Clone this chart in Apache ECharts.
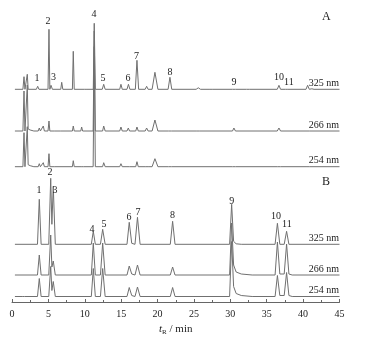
<!DOCTYPE html>
<html>
<head>
<meta charset="utf-8">
<script src="https://cdn.jsdelivr.net/npm/echarts@6/dist/echarts.min.js"></script>
<style>
html,body{margin:0;padding:0;background:#fff;}
#c{width:365px;height:343px;}
</style>
</head>
<body>
<div id="c"></div>
<script>
// Retention time axis (min)
const xTicks = [0, 5, 10, 15, 20, 25, 30, 35, 40, 45];
const traceNames = ['A 325 nm', 'A 266 nm', 'A 254 nm', 'B 325 nm', 'B 266 nm', 'B 254 nm'];
const wavelengthLabels = ['325 nm', '266 nm', '254 nm', '325 nm', '266 nm', '254 nm'];
const panelLabels = ['A', 'B'];
const peakNumbers = ['1', '2', '3', '4', '5', '6', '7', '8', '9', '10', '11'];

// Chromatogram traces: [tR (min), response (arbitrary units)]
const traceA325 = [[0.4,0],[1.5,0],[1.65,12.6],[1.78,0],[1.98,0],[2.1,15],[2.22,0],[2.4,1],[3.35,0],[3.53,3],[3.7,0],[4.95,0],[5.08,60],[5.2,0],[5.36,4],[5.55,0],[6.7,0],[6.83,7],[6.98,0],[8.3,0],[8.42,38],[8.55,0],[10.0,0],[10.16,2],[10.3,0],[11.17,0],[11.3,66],[11.45,0],[11.7,0.5],[12.4,0],[12.6,5],[12.8,0],[14.8,0],[14.97,5],[15.15,0],[15.8,0],[16.0,5],[16.2,0],[16.95,0],[17.17,29],[17.4,0],[18.3,0],[18.5,3],[18.7,0],[19.25,0],[19.64,17],[20.05,0],[21.45,0],[21.7,12],[21.95,0],[25.3,0],[25.6,1.5],[25.9,0],[27.2,0],[27.4,1],[27.6,0],[30.3,0],[30.5,1.2],[30.7,0],[32.2,0],[32.4,1],[32.6,0],[36.45,0],[36.68,4],[36.9,0],[37.6,0],[37.75,1],[37.9,0],[40.4,0],[40.62,4],[40.85,0],[41.2,0.5],[41.5,0],[45,0]];
const traceA266 = [[0.4,0],[1.5,0],[1.65,40],[1.78,0],[1.98,1],[2.1,46],[2.22,2],[2.5,1],[3.0,0],[3.6,0],[3.75,3],[3.9,0],[4.15,0],[4.3,5],[4.45,0],[4.95,0],[5.08,10],[5.2,0],[5.5,0],[5.67,1],[5.8,0],[6.7,0],[6.83,1],[6.95,0],[8.3,0],[8.42,5],[8.55,0],[9.45,0],[9.57,4],[9.7,0],[11.15,0],[11.3,100],[11.45,0],[12.45,0],[12.6,5],[12.8,0],[14.8,0],[14.97,4],[15.15,0],[15.8,0],[15.98,3],[16.15,0],[17.0,0],[17.17,4],[17.35,0],[18.3,0],[18.5,3],[18.7,0],[19.25,0],[19.64,11],[20.05,0],[21.5,0],[21.7,2],[21.9,0],[25.4,0],[25.6,1],[25.8,0],[30.3,0],[30.49,3],[30.7,0],[36.45,0],[36.68,3],[36.9,0],[40.4,0],[40.62,2],[40.85,0],[45,0]];
const traceA254 = [[0.4,0],[1.5,0],[1.65,34],[1.78,0],[1.98,1],[2.1,40],[2.22,2],[2.5,1],[3.0,0],[3.6,0],[3.75,3],[3.9,0],[4.15,0],[4.3,4],[4.45,0],[4.95,0],[5.08,13],[5.2,0],[5.8,0],[5.91,1],[6.05,0],[8.3,0],[8.42,6],[8.55,0],[9.5,0],[9.65,2],[9.8,0],[11.15,0],[11.3,120],[11.45,0],[12.45,0],[12.6,4],[12.8,0],[14.8,0],[14.97,3],[15.15,0],[15.8,0],[15.98,2],[16.15,0],[17.0,0],[17.17,5],[17.35,0],[18.3,0],[18.5,1],[18.7,0],[19.25,0],[19.64,8],[20.05,0],[21.5,0],[21.7,2],[21.9,0],[30.3,0],[30.49,2],[30.7,0],[36.45,0],[36.68,2],[36.9,0],[40.4,0],[40.62,1],[40.85,0],[45,0]];
const traceB325 = [[0.4,0],[3.5,0],[3.75,45],[4.0,0],[5.05,0],[5.32,66],[5.48,20],[5.67,58],[5.95,0],[10.9,0],[11.17,13],[11.45,0],[12.15,0],[12.46,15],[12.8,0],[15.8,0],[16.11,22],[16.45,1],[16.9,0],[17.24,27],[17.6,0],[21.75,0],[22.07,23],[22.4,0],[29.9,0],[30.18,40],[30.45,3],[30.8,0.5],[31.5,0],[36.15,0],[36.47,21],[36.8,0],[37.4,0],[37.73,13],[38.05,0],[45,0]];
const traceB266 = [[0.4,0],[3.5,0],[3.75,20],[4.0,0],[5.05,0],[5.32,40],[5.48,8],[5.67,14],[5.95,0],[10.9,0],[11.17,32],[11.45,0],[12.15,0],[12.46,32],[12.8,0],[15.8,0],[16.11,9],[16.45,1],[16.9,0],[17.24,10],[17.6,0],[21.75,0],[22.07,8],[22.4,0],[29.9,0],[30.18,52],[30.45,10],[30.8,3],[31.5,1],[33,0],[36.15,0],[36.47,33],[36.8,1],[37.4,1],[37.73,31],[38.05,1],[38.5,0],[45,0]];
const traceB254 = [[0.4,0],[1.4,0],[1.55,1.5],[1.7,0],[3.5,0],[3.75,18],[4.0,0],[5.05,0],[5.32,30],[5.48,6],[5.67,15],[5.95,0],[10.9,0],[11.17,28],[11.45,0],[12.15,0],[12.46,28],[12.8,0],[15.8,0],[16.11,9],[16.45,1],[16.9,0],[17.24,9.5],[17.6,0],[21.75,0],[22.07,9],[22.4,0],[29.9,0],[30.18,55],[30.45,10],[30.8,3],[31.5,1],[33,0],[36.15,0],[36.47,21],[36.8,1],[37.4,1],[37.73,24],[38.05,1],[38.5,0],[45,0]];

// ---- layout (not data) ----
const traces = [traceA325, traceA266, traceA254, traceB325, traceB266, traceB254];
const traceOffsets = [212.7, 171, 135.3, 57.7, 27, 5.5];
const yMax = 302;
// peak number label anchor spots [tR, y] for panel A then B
const labelSpotsA = [[3.43,224],[4.95,281],[5.70,225],[11.26,288],[12.5,224],[15.93,224],[17.1,246],[21.7,230],[30.49,220],[36.68,225],[38.05,220]];
const labelSpotsB = [[3.71,112],[5.22,130],[5.91,112],[10.99,73],[12.64,78],[16.07,85],[17.31,90],[22.07,87],[30.18,101],[36.26,86],[37.77,78]];

const serif = '"Liberation Serif","DejaVu Serif",serif';
const lineColor = '#707070';

const series = traces.map((tr, i) => {
  const off = traceOffsets[i];
  const mp = [{
    coord: [44.95, off + 6],
    value: wavelengthLabels[i],
    label: {show: true, formatter: wavelengthLabels[i], position: 'inside', align: 'right', verticalAlign: 'middle', fontFamily: serif, fontSize: 10, color: '#222'}
  }];
  if (i === 0 || i === 3) {
    const spots = i === 0 ? labelSpotsA : labelSpotsB;
    spots.forEach((s, k) => {
      mp.push({coord: s, value: peakNumbers[k],
        label: {show: true, formatter: peakNumbers[k], position: 'inside', align: 'center', verticalAlign: 'middle', fontFamily: serif, fontSize: 10, color: '#222'}});
    });
  }
  return {
    name: traceNames[i],
    type: 'line',
    data: tr.map(p => [p[0], p[1] + off]),
    showSymbol: false,
    symbol: 'none',
    smooth: false,
    clip: false,
    lineStyle: {color: lineColor, width: 1},
    z: 2,
    markPoint: {symbol: 'circle', symbolSize: 0, silent: true, animation: false, data: mp}
  };
});

const chart = echarts.init(document.getElementById('c'), null, {renderer: 'canvas'});
chart.setOption({
  animation: false,
  backgroundColor: '#fff',
  grid: {left: 12, right: 25.5, top: 0, bottom: 41, containLabel: false},
  xAxis: {
    type: 'value', min: xTicks[0], max: xTicks[xTicks.length - 1], interval: 5,
    name: '{i|t}{s|R}{n| / min}',
    nameLocation: 'middle', nameGap: 9,
    nameTextStyle: {rich: {
      i: {fontFamily: serif, fontStyle: 'italic', fontSize: 11, color: '#222'},
      s: {fontFamily: serif, fontSize: 7, color: '#222', verticalAlign: 'bottom', padding: [6, 0, 0, 0]},
      n: {fontFamily: serif, fontSize: 11, color: '#222'}
    }},
    axisLine: {lineStyle: {color: '#666', width: 1}},
    axisTick: {inside: true, length: 3, lineStyle: {color: '#666'}},
    minorTick: {show: true, splitNumber: 2, length: 2, lineStyle: {color: '#666'}},
    axisLabel: {fontFamily: serif, fontSize: 10, color: '#222', margin: 7},
    splitLine: {show: false}
  },
  yAxis: {type: 'value', min: 0, max: yMax, show: false, splitLine: {show: false}},
  graphic: [
    {type: 'text', left: 322, top: 11, style: {text: panelLabels[0], font: '12px ' + serif, fill: '#222'}},
    {type: 'text', left: 322, top: 176, style: {text: panelLabels[1], font: '12px ' + serif, fill: '#222'}}
  ],
  series: series
});
</script>
</body>
</html>
